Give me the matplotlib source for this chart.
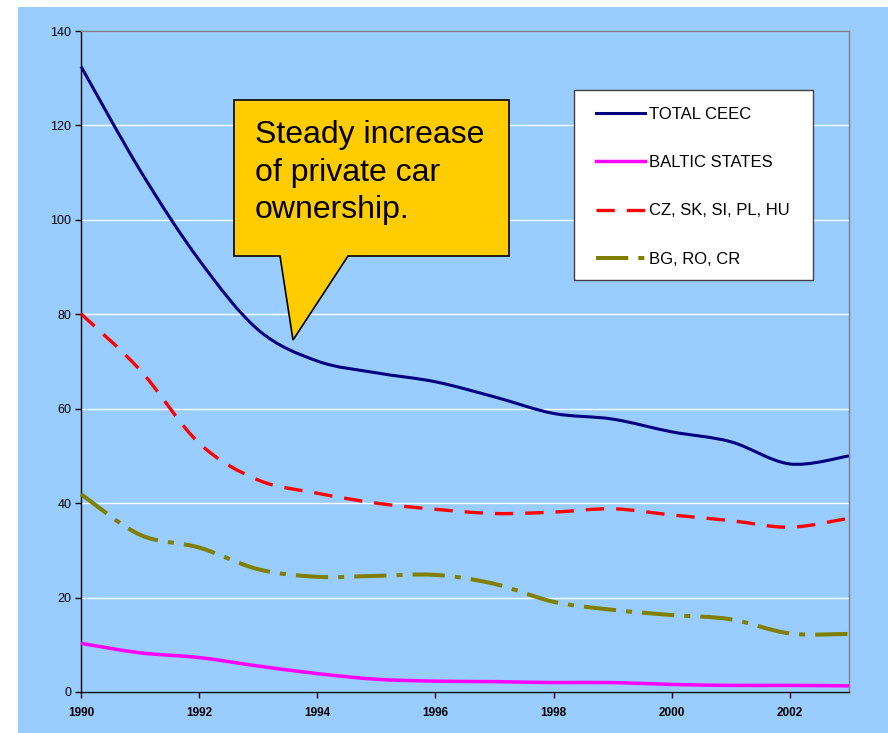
import matplotlib
matplotlib.use("Agg")
import matplotlib.pyplot as plt
import numpy as np
from matplotlib.path import Path
from matplotlib.patches import PathPatch, Polygon, Rectangle
from matplotlib.lines import Line2D

plt.rcParams['font.family'] = ['Liberation Sans', 'DejaVu Sans']

years = [1990, 1991, 1992, 1993, 1994, 1995, 1996, 1997, 1998, 1999, 2000, 2001, 2002, 2003]
total_ceec = [132.5, 110.5, 91.5, 76.7, 70.1, 67.6, 65.7, 62.5, 59.0, 57.8, 55.1, 53.0, 48.3, 50.0]
baltic = [10.3, 8.3, 7.3, 5.5, 3.9, 2.7, 2.3, 2.2, 2.0, 2.0, 1.6, 1.4, 1.4, 1.3]
cz_group = [80.1, 68.2, 52.7, 44.9, 42.1, 40.0, 38.7, 37.8, 38.1, 38.8, 37.5, 36.3, 34.9, 36.8]
bg_group = [41.9, 33.3, 30.6, 26.0, 24.4, 24.6, 24.8, 22.9, 19.1, 17.4, 16.3, 15.4, 12.4, 12.3]
labels = ["TOTAL CEEC", "BALTIC STATES", "CZ, SK, SI, PL, HU", "BG, RO, CR"]
callout_text = "Steady increase\nof private car\nownership."

W, H = 888, 733
BLUE = "#99CCFF"
fig = plt.figure(figsize=(W / 100, H / 100), dpi=100, facecolor="white")
fig.patches.append(Rectangle((18 / W, 0), 1 - 18 / W, 1 - 7 / H, transform=fig.transFigure,
                             facecolor=BLUE, edgecolor="none", zorder=-10))

ax = fig.add_axes([81 / W, 1 - 692 / H, (849 - 81) / W, (692 - 31) / H])
ax.set_facecolor(BLUE)
ax.set_xlim(1990, 2003)
ax.set_ylim(0, 140)
ax.set_yticks(np.arange(0, 141, 20))
ax.set_xticks(np.arange(1990, 2003, 2))
ax.grid(axis="y", color="white", lw=1.0)
ax.set_axisbelow(True)
for s in ["left", "bottom"]:
    ax.spines[s].set_color("black")
    ax.spines[s].set_linewidth(1.0)
for s in ["top", "right"]:
    ax.spines[s].set_color("#808080")
    ax.spines[s].set_linewidth(1.0)
ax.tick_params(axis="y", length=4, width=1, labelsize=9, pad=3)
ax.tick_params(axis="x", length=4, width=1, labelsize=8.5, pad=7)
for t in ax.get_xticklabels():
    t.set_fontweight("bold")


def smooth_path(xs, ys):
    xs = np.asarray(xs, float)
    ys = np.asarray(ys, float)
    n = len(xs)
    verts = [(xs[0], ys[0])]
    codes = [Path.MOVETO]
    for i in range(n - 1):
        i0 = max(i - 1, 0)
        i3 = min(i + 2, n - 1)
        c1 = (xs[i] + (xs[i + 1] - xs[i0]) / 6, ys[i] + (ys[i + 1] - ys[i0]) / 6)
        c2 = (xs[i + 1] - (xs[i3] - xs[i]) / 6, ys[i + 1] - (ys[i3] - ys[i]) / 6)
        verts += [c1, c2, (xs[i + 1], ys[i + 1])]
        codes += [Path.CURVE4] * 3
    return Path(verts, codes)


styles = [
    dict(color="#000080", lw=2.2, ls="-"),
    dict(color="#FF00FF", lw=2.5, ls="-"),
    dict(color="#FF0000", lw=2.4, ls=(0, (5.5, 3.6))),
    dict(color="#808000", lw=2.9, ls=(0, (8, 2.5, 1.5, 2.5))),
]
series = [total_ceec, baltic, cz_group, bg_group]
handles = []
for vals, st, lab in zip(series, styles, labels):
    p = PathPatch(smooth_path(years, vals), fill=False, edgecolor=st["color"],
                  lw=st["lw"], linestyle=st["ls"], capstyle="butt", joinstyle="round",
                  zorder=3, clip_on=False)
    ax.add_patch(p)
    handles.append(Line2D([], [], color=st["color"], lw=st["lw"], ls=st["ls"],
                          dash_capstyle="butt", label=lab))

# legend frame
fig.patches.append(Rectangle((574 / W, 1 - 280 / H), (813 - 574) / W, (280 - 90) / H,
                             transform=fig.transFigure, facecolor="white",
                             edgecolor="#404040", lw=1.0, zorder=4))
leg = fig.legend(handles=handles, loc="upper left",
                 bbox_to_anchor=(596 / W, 1 - 107 / H), bbox_transform=fig.transFigure,
                 borderaxespad=0, fontsize=12, labelspacing=1.99, handlelength=2.95,
                 handletextpad=0.25, borderpad=0, frameon=False)
leg.set_zorder(5)

# callout
pts = [(234, 100), (509, 100), (509, 256), (348, 256), (293, 340), (280, 256), (234, 256)]
poly = Polygon([(x / W, 1 - y / H) for x, y in pts], closed=True, transform=fig.transFigure,
               facecolor="#FFCC00", edgecolor="black", lw=1.2, zorder=5)
fig.patches.append(poly)
fig.text(255 / W, 1 - 120 / H, callout_text, fontsize=23, va="top", ha="left",
         linespacing=1.33, color="black", zorder=6)

fig.savefig("out.png", dpi=100, facecolor=fig.get_facecolor())
